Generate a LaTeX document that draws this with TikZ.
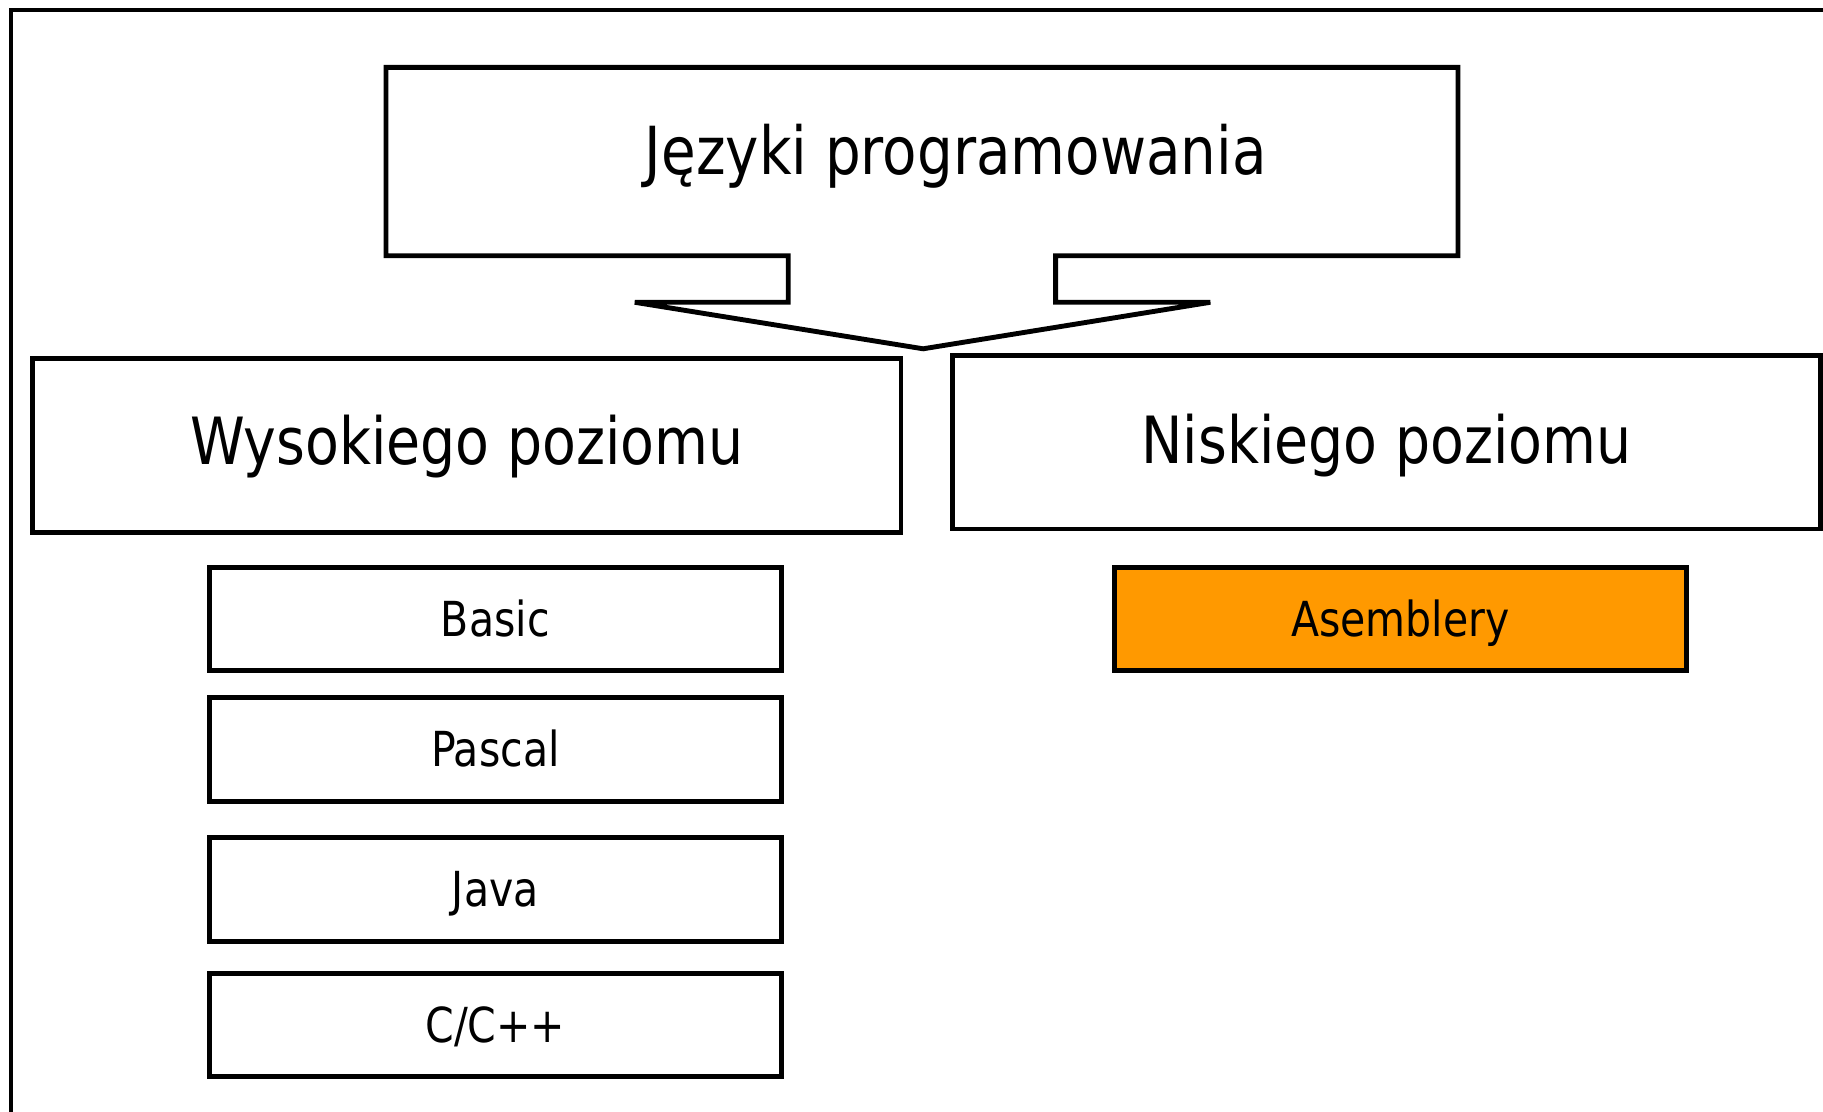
\documentclass[tikz,border=0pt]{standalone}
\usepackage{fontspec}
\setmainfont{DejaVu Sans}[FakeStretch=0.85]
\definecolor{asmorange}{RGB}{255,153,0}
\tikzset{
  frameline/.style={line width=4.2pt, draw=black},
  bigbox/.style={frameline, rectangle, inner sep=0pt, minimum width=747pt,
    font=\fontsize{56}{60}\selectfont, text height=40.8pt, text depth=8pt},
  langbox/.style={frameline, rectangle, inner sep=0pt, minimum width=492pt, minimum height=89pt,
    font=\fontsize{41.5}{45}\selectfont, text height=30.2pt, text depth=0pt},
}
\begin{document}
\begin{tikzpicture}[x=1pt, y=-1pt, line join=miter]
  \useasboundingbox (0,0) rectangle (1568,956);
  \begin{scope}
    \clip (0,0) rectangle (1568,956);
    % outer frame, open to the right and bottom
    \draw[frameline] (9.5,970) -- (9.5,8.6) -- (1580,8.6);
  \end{scope}

  % arrow-shaped heading box
  \draw[frameline, fill=white]
    (332,58) -- (1254,58) -- (1254,220) -- (908,220) -- (908,260) -- (1041,260)
    -- (794,300) -- (546,260) -- (678,260) -- (678,220) -- (332,220) -- cycle;
  \node[font=\fontsize{57}{60}\selectfont, text height=41.5pt, text depth=0pt, inner sep=0pt]
    (title) at (822,129) {Języki programowania};

  % the two categories
  \node[bigbox, minimum height=150pt] (high) at (401.5,383) {Wysokiego poziomu};
  \node[bigbox, minimum height=149pt, text depth=5pt] (low) at (1192.5,380.5) {Niskiego poziomu};

  % high-level languages
  \node[langbox] (basic) at (426,532.5) {Basic};
  \node[langbox] (pascal) at (426,644.5) {Pascal};
  \node[langbox] (java) at (426,765) {Java};
  \node[langbox] (cpp) at (426,881.5) {C/C++};

  % low-level languages
  \node[langbox, fill=asmorange] (asm) at (1204.5,532.5) {Asemblery};
\end{tikzpicture}
\end{document}
